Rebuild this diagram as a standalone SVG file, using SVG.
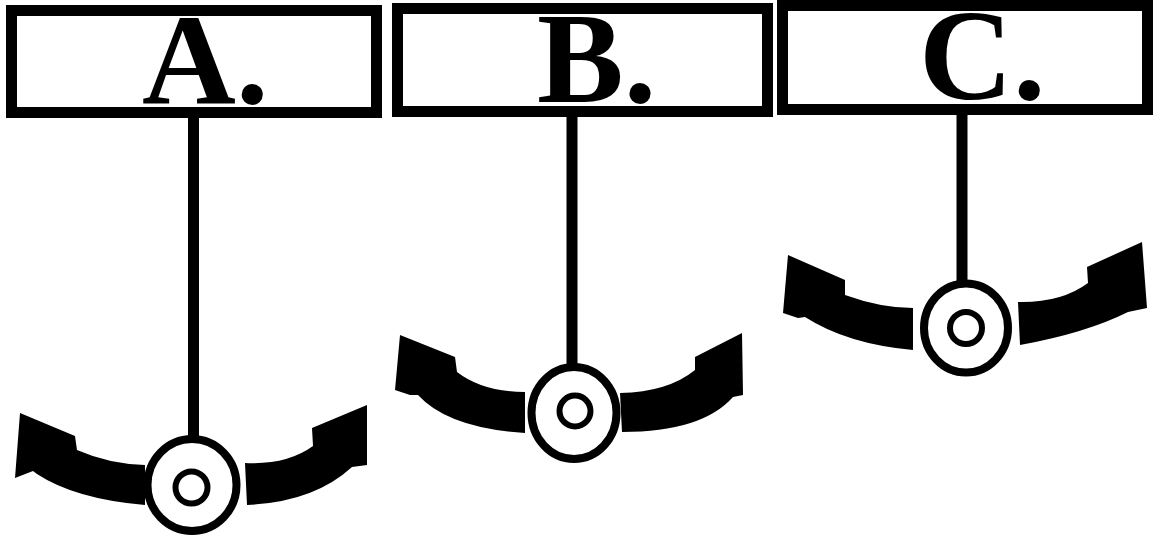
<svg xmlns="http://www.w3.org/2000/svg" width="1173" height="543" viewBox="0 0 1173 543">
  <style>
    .frame { fill: #fff; stroke: #000; stroke-width: 11; }
    .label { font-family: "Liberation Serif", "Times New Roman", serif; font-weight: bold; font-size: 130px; fill: #000; }
    .rod { stroke: #000; stroke-width: 11; fill: none; }
    .bob { fill: #fff; stroke: #000; stroke-width: 8; }
    .pivot { fill: #fff; stroke: #000; stroke-width: 6; }
    .swing { fill: #000; stroke: none; }
  </style>
  <rect width="1173" height="543" fill="#fff"/>

  <!-- suspension rods -->
  <g id="connectors">
    <line class="rod" x1="193.5" y1="118" x2="193.5" y2="437"/>
    <line class="rod" x1="572" y1="116" x2="572" y2="365"/>
    <line class="rod" x1="962" y1="114" x2="962" y2="282"/>
  </g>

  <!-- labelled frames -->
  <g id="label-a">
    <rect class="frame" x="11.5" y="10.5" width="365" height="102"/>
    <text class="label" x="142" y="103">A.</text>
  </g>
  <g id="label-b">
    <rect class="frame" x="397.5" y="8.5" width="370" height="103"/>
    <text class="label" x="537" y="102">B.</text>
  </g>
  <g id="label-c">
    <rect class="frame" x="782.5" y="5.5" width="365" height="104"/>
    <text class="label" x="919" y="99">C.</text>
  </g>

  <!-- bob A with swing arrows -->
  <g id="bob-a">
    <path class="swing" d="M20,413 L75,436 L77,450 Q109,464 145,465 L145,505 Q75,499 37,474 L33,471 L15,478 Z"/>
    <path class="swing" d="M245,463 Q287,465 313,446 L312,428 L367,405 L367,465 L352,467 Q314,502 247,505 Z"/>
    <ellipse class="bob" cx="192" cy="485" rx="44.5" ry="46"/>
    <circle class="pivot" cx="191.5" cy="487.5" r="16"/>
  </g>

  <!-- bob B with swing arrows -->
  <g id="bob-b">
    <path class="swing" d="M400,335 L455,357 L457,372 Q483,392 525,392 L525,433 Q448,428 418,395 L410,395 L395,390 Z"/>
    <path class="swing" d="M620,393 Q668,392 695,370 L695,357 L742,333 L743,395 L733,397 Q702,432 622,432 Z"/>
    <ellipse class="bob" cx="574" cy="413" rx="42.5" ry="46"/>
    <circle class="pivot" cx="575" cy="411" r="15.5"/>
  </g>

  <!-- bob C with swing arrows -->
  <g id="bob-c">
    <path class="swing" d="M788,255 L845,280 L845,295 Q881,308 913,308 L913,350 Q847,344 805,317 L798,318 L783,313 Z"/>
    <path class="swing" d="M1018,302 Q1061,303 1088,283 L1087,267 L1142,242 L1147,308 L1128,312 Q1086,333 1020,345 Z"/>
    <ellipse class="bob" cx="966" cy="328" rx="42" ry="44.5"/>
    <circle class="pivot" cx="966" cy="328" r="16"/>
  </g>
</svg>
